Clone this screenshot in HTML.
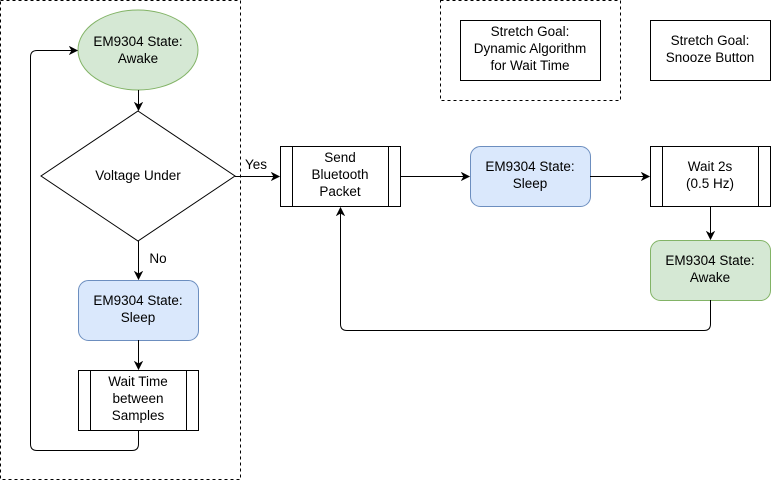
<!DOCTYPE html>
<html><head><meta charset="utf-8"><style>
html,body{margin:0;padding:0;background:#fff;}
svg{display:block;}
text{font-family:"Liberation Sans",Arial,sans-serif;font-size:13.5px;fill:#000;text-anchor:middle;}
</style></head><body>
<svg width="771" height="482" viewBox="0 0 771 482" xmlns="http://www.w3.org/2000/svg">
<defs><marker id="a" markerWidth="10" markerHeight="10" refX="8" refY="5" orient="auto" markerUnits="userSpaceOnUse"><path d="M1,1.5 L8,5 L1,8.5 L3,5 Z" fill="#000" stroke="#000"/></marker></defs>
<g fill="none" stroke="#000" stroke-width="1">
<rect x="0.5" y="0.5" width="240" height="479" stroke-dasharray="3,3"/>
<rect x="440.5" y="0.5" width="180" height="100" stroke-dasharray="3,3"/>
<rect x="460.5" y="20.5" width="140" height="60"/>
<rect x="650.5" y="20.5" width="120" height="60"/>
</g>
<ellipse cx="138" cy="50" rx="60" ry="40" fill="#d5e8d4" stroke="#82b366"/>
<polygon points="138,111 235,176 138,241 41,176" fill="#fff" stroke="#000"/>
<rect x="78.5" y="280.5" width="120" height="60" rx="10" fill="#dae8fc" stroke="#6c8ebf"/>
<g fill="#fff" stroke="#000">
<rect x="78.5" y="370.5" width="120" height="60"/>
<rect x="280.5" y="146.5" width="120" height="60"/>
<rect x="650.5" y="146.5" width="120" height="60"/>
</g>
<g stroke="#000"><line x1="90.5" y1="370" x2="90.5" y2="431"/><line x1="186.5" y1="370" x2="186.5" y2="431"/>
<line x1="292.5" y1="146" x2="292.5" y2="207"/><line x1="388.5" y1="146" x2="388.5" y2="207"/>
<line x1="662.5" y1="146" x2="662.5" y2="207"/><line x1="758.5" y1="146" x2="758.5" y2="207"/></g>
<rect x="470.5" y="146.5" width="120" height="60" rx="10" fill="#dae8fc" stroke="#6c8ebf"/>
<rect x="650.5" y="240.5" width="120" height="60" rx="10" fill="#d5e8d4" stroke="#82b366"/>
<g fill="none" stroke="#000" marker-end="url(#a)">
<path d="M138.5,90 V110"/>
<path d="M235,176.5 H279"/>
<path d="M138.5,241 V279"/>
<path d="M138.5,340 V369"/>
<path d="M138.5,430 V444 Q138.5,450.5 132,450.5 H37 Q30.5,450.5 30.5,444 V57 Q30.5,50.5 37,50.5 H77"/>
<path d="M400,176.5 H469"/>
<path d="M590,176.5 H649"/>
<path d="M710.5,206 V239"/>
<path d="M710.5,300 V324 Q710.5,330.5 704,330.5 H347 Q340.5,330.5 340.5,324 V208"/>
</g>
<text x="138" y="46">EM9304 State:</text><text x="138" y="63">Awake</text>
<text x="138" y="180">Voltage Under</text>
<text x="256" y="169">Yes</text>
<text x="158" y="263">No</text>
<text x="138" y="305">EM9304 State:</text><text x="138" y="322">Sleep</text>
<text x="138" y="386">Wait Time</text><text x="138" y="403">between</text><text x="138" y="420">Samples</text>
<text x="340" y="162">Send</text><text x="340" y="179">Bluetooth</text><text x="340" y="196">Packet</text>
<text x="530" y="171">EM9304 State:</text><text x="530" y="188">Sleep</text>
<text x="710" y="171">Wait 2s</text><text x="710" y="188">(0.5 Hz)</text>
<text x="710" y="265">EM9304 State:</text><text x="710" y="282">Awake</text>
<text x="530" y="36">Stretch Goal:</text><text x="530" y="53">Dynamic Algorithm</text><text x="530" y="70">for Wait Time</text>
<text x="710" y="45">Stretch Goal:</text><text x="710" y="62">Snooze Button</text>
</svg>
</body></html>
